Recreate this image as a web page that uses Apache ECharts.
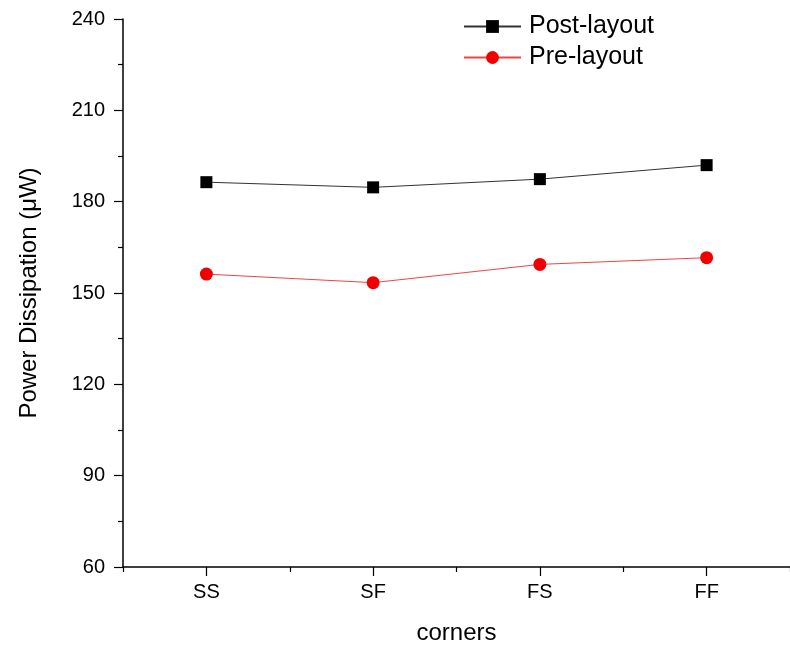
<!DOCTYPE html>
<html>
<head>
<meta charset="utf-8">
<script src="https://cdn.jsdelivr.net/npm/echarts@6/dist/echarts.min.js"></script>
<style>html,body{margin:0;padding:0;background:#fff;}#c{width:790px;height:650px;}</style>
</head>
<body>
<div id="c"></div>
<script>
const categories = ['SS', 'SF', 'FS', 'FF'];
const postLayout = [186.4, 184.7, 187.4, 192.0];
const preLayout = [156.2, 153.4, 159.4, 161.6];
const yTicks = { min: 60, max: 240, interval: 30 };

const font = 'Liberation Sans, Arial, sans-serif';
const chart = echarts.init(document.getElementById('c'), null, { renderer: 'canvas' });
chart.setOption({
  backgroundColor: '#fff',
  animation: false,
  grid: { left: 123, top: 19, bottom: 83, width: 674 },
  legend: {
    orient: 'vertical', left: 458, top: 9,
    itemWidth: 57, itemHeight: 16, itemGap: 6,
    textStyle: { fontFamily: font, fontSize: 25, color: '#000', padding: [0, 0, 0, 3] },
    data: ['Post-layout', 'Pre-layout']
  },
  xAxis: [{
    type: 'category', data: categories, boundaryGap: true,
    name: 'corners', nameLocation: 'middle', nameGap: 54,
    nameTextStyle: { fontFamily: font, fontSize: 24, color: '#000' },
    axisLine: { show: true, lineStyle: { color: '#000', width: 1.5 } },
    axisTick: { show: true, alignWithLabel: true, length: 9, lineStyle: { color: '#000', width: 1.2 } },
    axisLabel: { show: true, fontFamily: font, fontSize: 20, color: '#000', margin: 15 },
    splitLine: { show: false }
  }, {
    type: 'category', data: categories, boundaryGap: true, position: 'bottom',
    axisLine: { show: false },
    axisTick: { show: true, length: 5, lineStyle: { color: '#000', width: 1.2 } },
    axisLabel: { show: false },
    splitLine: { show: false }
  }],
  yAxis: {
    type: 'value', min: yTicks.min, max: yTicks.max, interval: yTicks.interval,
    name: 'Power Dissipation (\u03bcW)', nameLocation: 'middle', nameGap: 82,
    nameTextStyle: { fontFamily: font, fontSize: 24, color: '#000' },
    axisLine: { show: true, lineStyle: { color: '#000', width: 1.5 } },
    axisTick: { show: true, length: 9, lineStyle: { color: '#000', width: 1.2 } },
    minorTick: { show: true, splitNumber: 2, length: 5, lineStyle: { color: '#000', width: 1.2 } },
    axisLabel: { show: true, fontFamily: font, fontSize: 20, color: '#000', margin: 18 },
    splitLine: { show: false }
  },
  series: [{
    name: 'Post-layout', type: 'line', data: postLayout,
    symbol: 'rect', symbolSize: 12,
    itemStyle: { color: '#000' },
    lineStyle: { color: '#333', width: 1 }
  }, {
    name: 'Pre-layout', type: 'line', data: preLayout,
    symbol: 'circle', symbolSize: 13,
    itemStyle: { color: '#f00000' },
    lineStyle: { color: '#e44', width: 1 }
  }]
});
</script>
</body>
</html>
